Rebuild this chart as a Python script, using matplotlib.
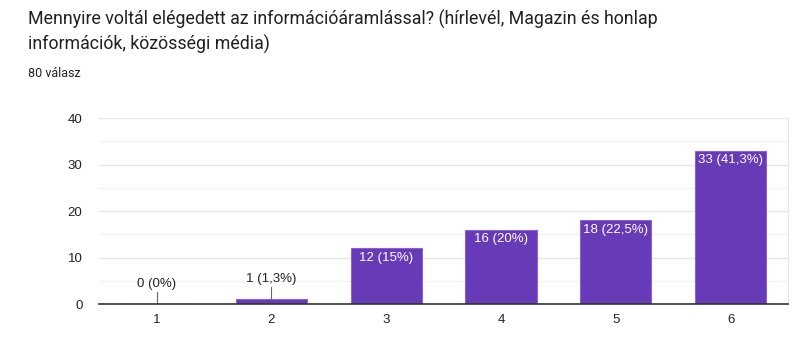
import matplotlib.pyplot as plt

plt.rcParams['font.family'] = ['Liberation Sans', 'DejaVu Sans']

categories = ['1', '2', '3', '4', '5', '6']
counts = [0, 1, 12, 16, 18, 33]
labels = ['0 (0%)', '1 (1,3%)', '12 (15%)', '16 (20%)', '18 (22,5%)', '33 (41,3%)']

purple = '#673ab7'

fig = plt.figure(figsize=(8, 3.62), dpi=100)
ax = fig.add_axes([0.124, 0.16, 0.861, 0.514])

x = range(len(categories))
bars = ax.bar(x, counts, width=0.62, color=purple, edgecolor='#8a63cc', linewidth=0.8, zorder=3)

ax.set_ylim(0, 40)
ax.set_xlim(-0.5, len(categories) - 0.5)
ax.set_yticks([0, 10, 20, 30, 40])
ax.set_yticks([5, 15, 25, 35], minor=True)
ax.grid(axis='y', which='major', color='#e6e6e6', linewidth=1, zorder=0)
ax.grid(axis='y', which='minor', color='#f3f3f3', linewidth=1, zorder=0)
ax.set_xticks(list(x))
ax.set_xticklabels(categories)
ax.tick_params(axis='both', which='both', length=0, labelsize=9.5, colors='#222222', pad=7)
ax.tick_params(axis='y', pad=12)

for s in ['top', 'left']:
    ax.spines[s].set_visible(False)
ax.spines['right'].set_color('#e6e6e6')
ax.spines['bottom'].set_color('#333333')
ax.spines['bottom'].set_linewidth(1.2)
ax.spines['bottom'].set_zorder(4)

for i, (c, lab) in enumerate(zip(counts, labels)):
    if c < 5:
        ax.plot([i, i], [c, c + 2.7], color='#666666', linewidth=0.8, zorder=4)
        ax.text(i, c + 3.0, lab, ha='center', va='bottom', fontsize=9.5, color='#222222')
    else:
        ax.text(i, c - 0.7, lab, ha='center', va='top', fontsize=9.5, color='white', zorder=5)

title_font = ['Roboto', 'DejaVu Sans']
fig.text(0.035, 0.945, 'Mennyire voltál elégedett az információáramlással? (hírlevél, Magazin és honlap',
         fontsize=12.8, color='#202124', va='center', family=title_font)
fig.text(0.035, 0.876, 'információk, közösségi média)', fontsize=12.8, color='#202124', va='center',
         family=title_font)
fig.text(0.035, 0.798, '80 válasz', fontsize=9, color='#202124', va='center', family=title_font)

fig.savefig('out.png', dpi=100)
